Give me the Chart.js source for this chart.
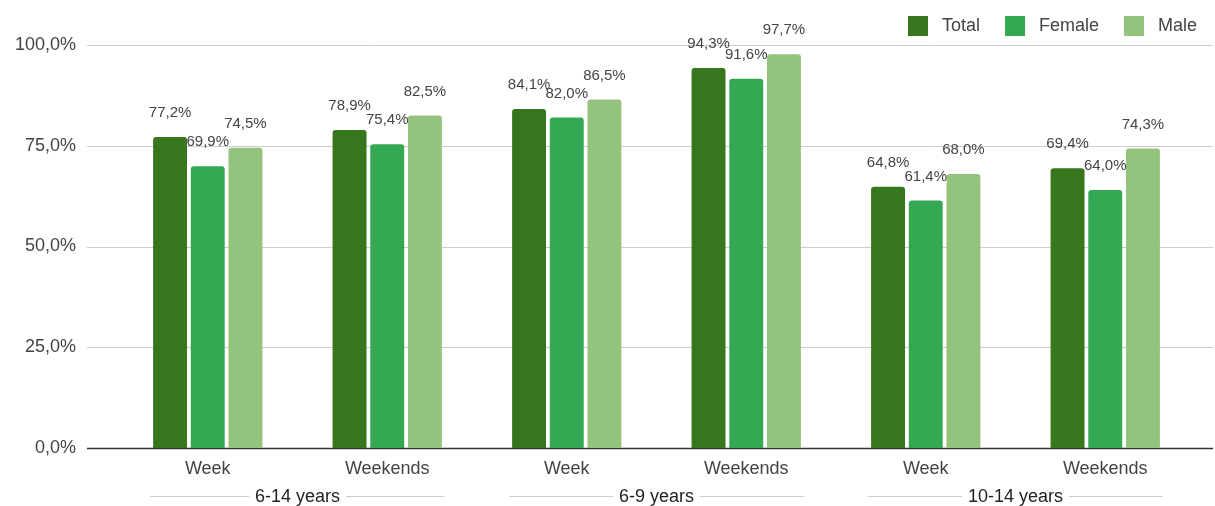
<!DOCTYPE html>
<html>
<head>
<meta charset="utf-8">
<script src="https://cdn.jsdelivr.net/npm/chart.js@4.4.1/dist/chart.umd.min.js"></script>
<style>
  html, body { margin: 0; padding: 0; background: #fff; }
  #wrap { width: 1215px; height: 506px; }
</style>
</head>
<body>
<div id="wrap"><canvas id="c" width="1215" height="506"></canvas></div>
<script>
const categories = ["Week", "Weekends", "Week", "Weekends", "Week", "Weekends"];
const groups = ["6-14 years", "6-9 years", "10-14 years"];
const seriesNames = ["Total", "Female", "Male"];
const totalValues = [77.2, 78.9, 84.1, 94.3, 64.8, 69.4];
const femaleValues = [69.9, 75.4, 82.0, 91.6, 61.4, 64.0];
const maleValues = [74.5, 82.5, 86.5, 97.7, 68.0, 74.3];
const yTicks = [0, 25, 50, 75, 100];
const colors = ["#38761d", "#34a853", "#93c47d"];

const FONT = "'Liberation Sans', Arial, sans-serif";
const fmt = v => v.toFixed(1).replace('.', ',') + '%';

const customDraw = {
  id: 'customDraw',
  beforeDatasetsDraw(chart) {
    const ctx = chart.ctx, y = chart.scales.y;
    ctx.save();
    yTicks.forEach(t => {
      const py = Math.round(y.getPixelForValue(t)) + 0.5;
      ctx.beginPath();
      ctx.moveTo(87, py);
      ctx.lineTo(1213, py);
      ctx.strokeStyle = t === 0 ? '#333333' : '#cccccc';
      ctx.lineWidth = t === 0 ? 1.5 : 1;
      ctx.stroke();
    });
    ctx.restore();
  },
  afterDatasetsDraw(chart) {
    const ctx = chart.ctx;
    ctx.save();
    ctx.font = "15px " + FONT;
    ctx.fillStyle = '#444444';
    ctx.textAlign = 'center';
    ctx.textBaseline = 'middle';
    chart.data.datasets.forEach((ds, i) => {
      const meta = chart.getDatasetMeta(i);
      meta.data.forEach((el, j) => {
        ctx.fillText(fmt(ds.data[j]), el.x, el.y - 24);
      });
    });
    const x = chart.scales.x;
    const catW = x.getPixelForValue(1) - x.getPixelForValue(0);
    ctx.font = "18px " + FONT;
    ctx.fillStyle = '#222222';
    groups.forEach((g, k) => {
      const cx = (x.getPixelForValue(2 * k) + x.getPixelForValue(2 * k + 1)) / 2;
      const tw = ctx.measureText(g).width;
      const half = catW * 0.82;
      const ly = 496.5;
      ctx.fillText(g, cx, 497);
      ctx.beginPath();
      ctx.moveTo(cx - half, ly);
      ctx.lineTo(cx - tw / 2 - 6, ly);
      ctx.moveTo(cx + tw / 2 + 6, ly);
      ctx.lineTo(cx + half, ly);
      ctx.strokeStyle = '#cccccc';
      ctx.lineWidth = 1;
      ctx.stroke();
    });
    ctx.font = "18px " + FONT;
    ctx.textAlign = 'left';
    let lx = 908;
    seriesNames.forEach((n, i) => {
      ctx.fillStyle = colors[i];
      ctx.fillRect(lx, 16, 20, 20);
      ctx.fillStyle = '#444444';
      ctx.fillText(n, lx + 34, 26);
      lx += 34 + ctx.measureText(n).width + 25;
    });
    ctx.restore();
  }
};

new Chart(document.getElementById('c'), {
  type: 'bar',
  data: {
    labels: categories,
    datasets: [
      { label: seriesNames[0], data: totalValues, backgroundColor: colors[0] },
      { label: seriesNames[1], data: femaleValues, backgroundColor: colors[1] },
      { label: seriesNames[2], data: maleValues, backgroundColor: colors[2] }
    ].map(d => Object.assign(d, { borderRadius: { topLeft: 3, topRight: 3 }, borderSkipped: 'bottom', categoryPercentage: 0.63, barPercentage: 0.9 }))
  },
  options: {
    responsive: false,
    animation: false,
    devicePixelRatio: 1,
    layout: { padding: { left: 0, right: 20, top: 45, bottom: 0 } },
    plugins: { legend: { display: false }, tooltip: { enabled: false } },
    scales: {
      x: {
        grid: { display: false, drawTicks: false },
        border: { display: false },
        ticks: { color: '#444444', font: { size: 18, family: FONT }, padding: 10, maxRotation: 0, autoSkip: false },
        afterFit(s) { s.height = 58; }
      },
      y: {
        min: 0, max: 100,
        grid: { display: false, drawTicks: false },
        border: { display: false },
        afterBuildTicks(s) { s.ticks = yTicks.map(v => ({ value: v })); },
        ticks: { color: '#444444', font: { size: 18, family: FONT }, padding: 42, callback: v => fmt(v) },
        afterFit(s) { s.width = 118; s.paddingTop = 0; s.paddingBottom = 0; }
      }
    }
  },
  plugins: [customDraw]
});
</script>
</body>
</html>
